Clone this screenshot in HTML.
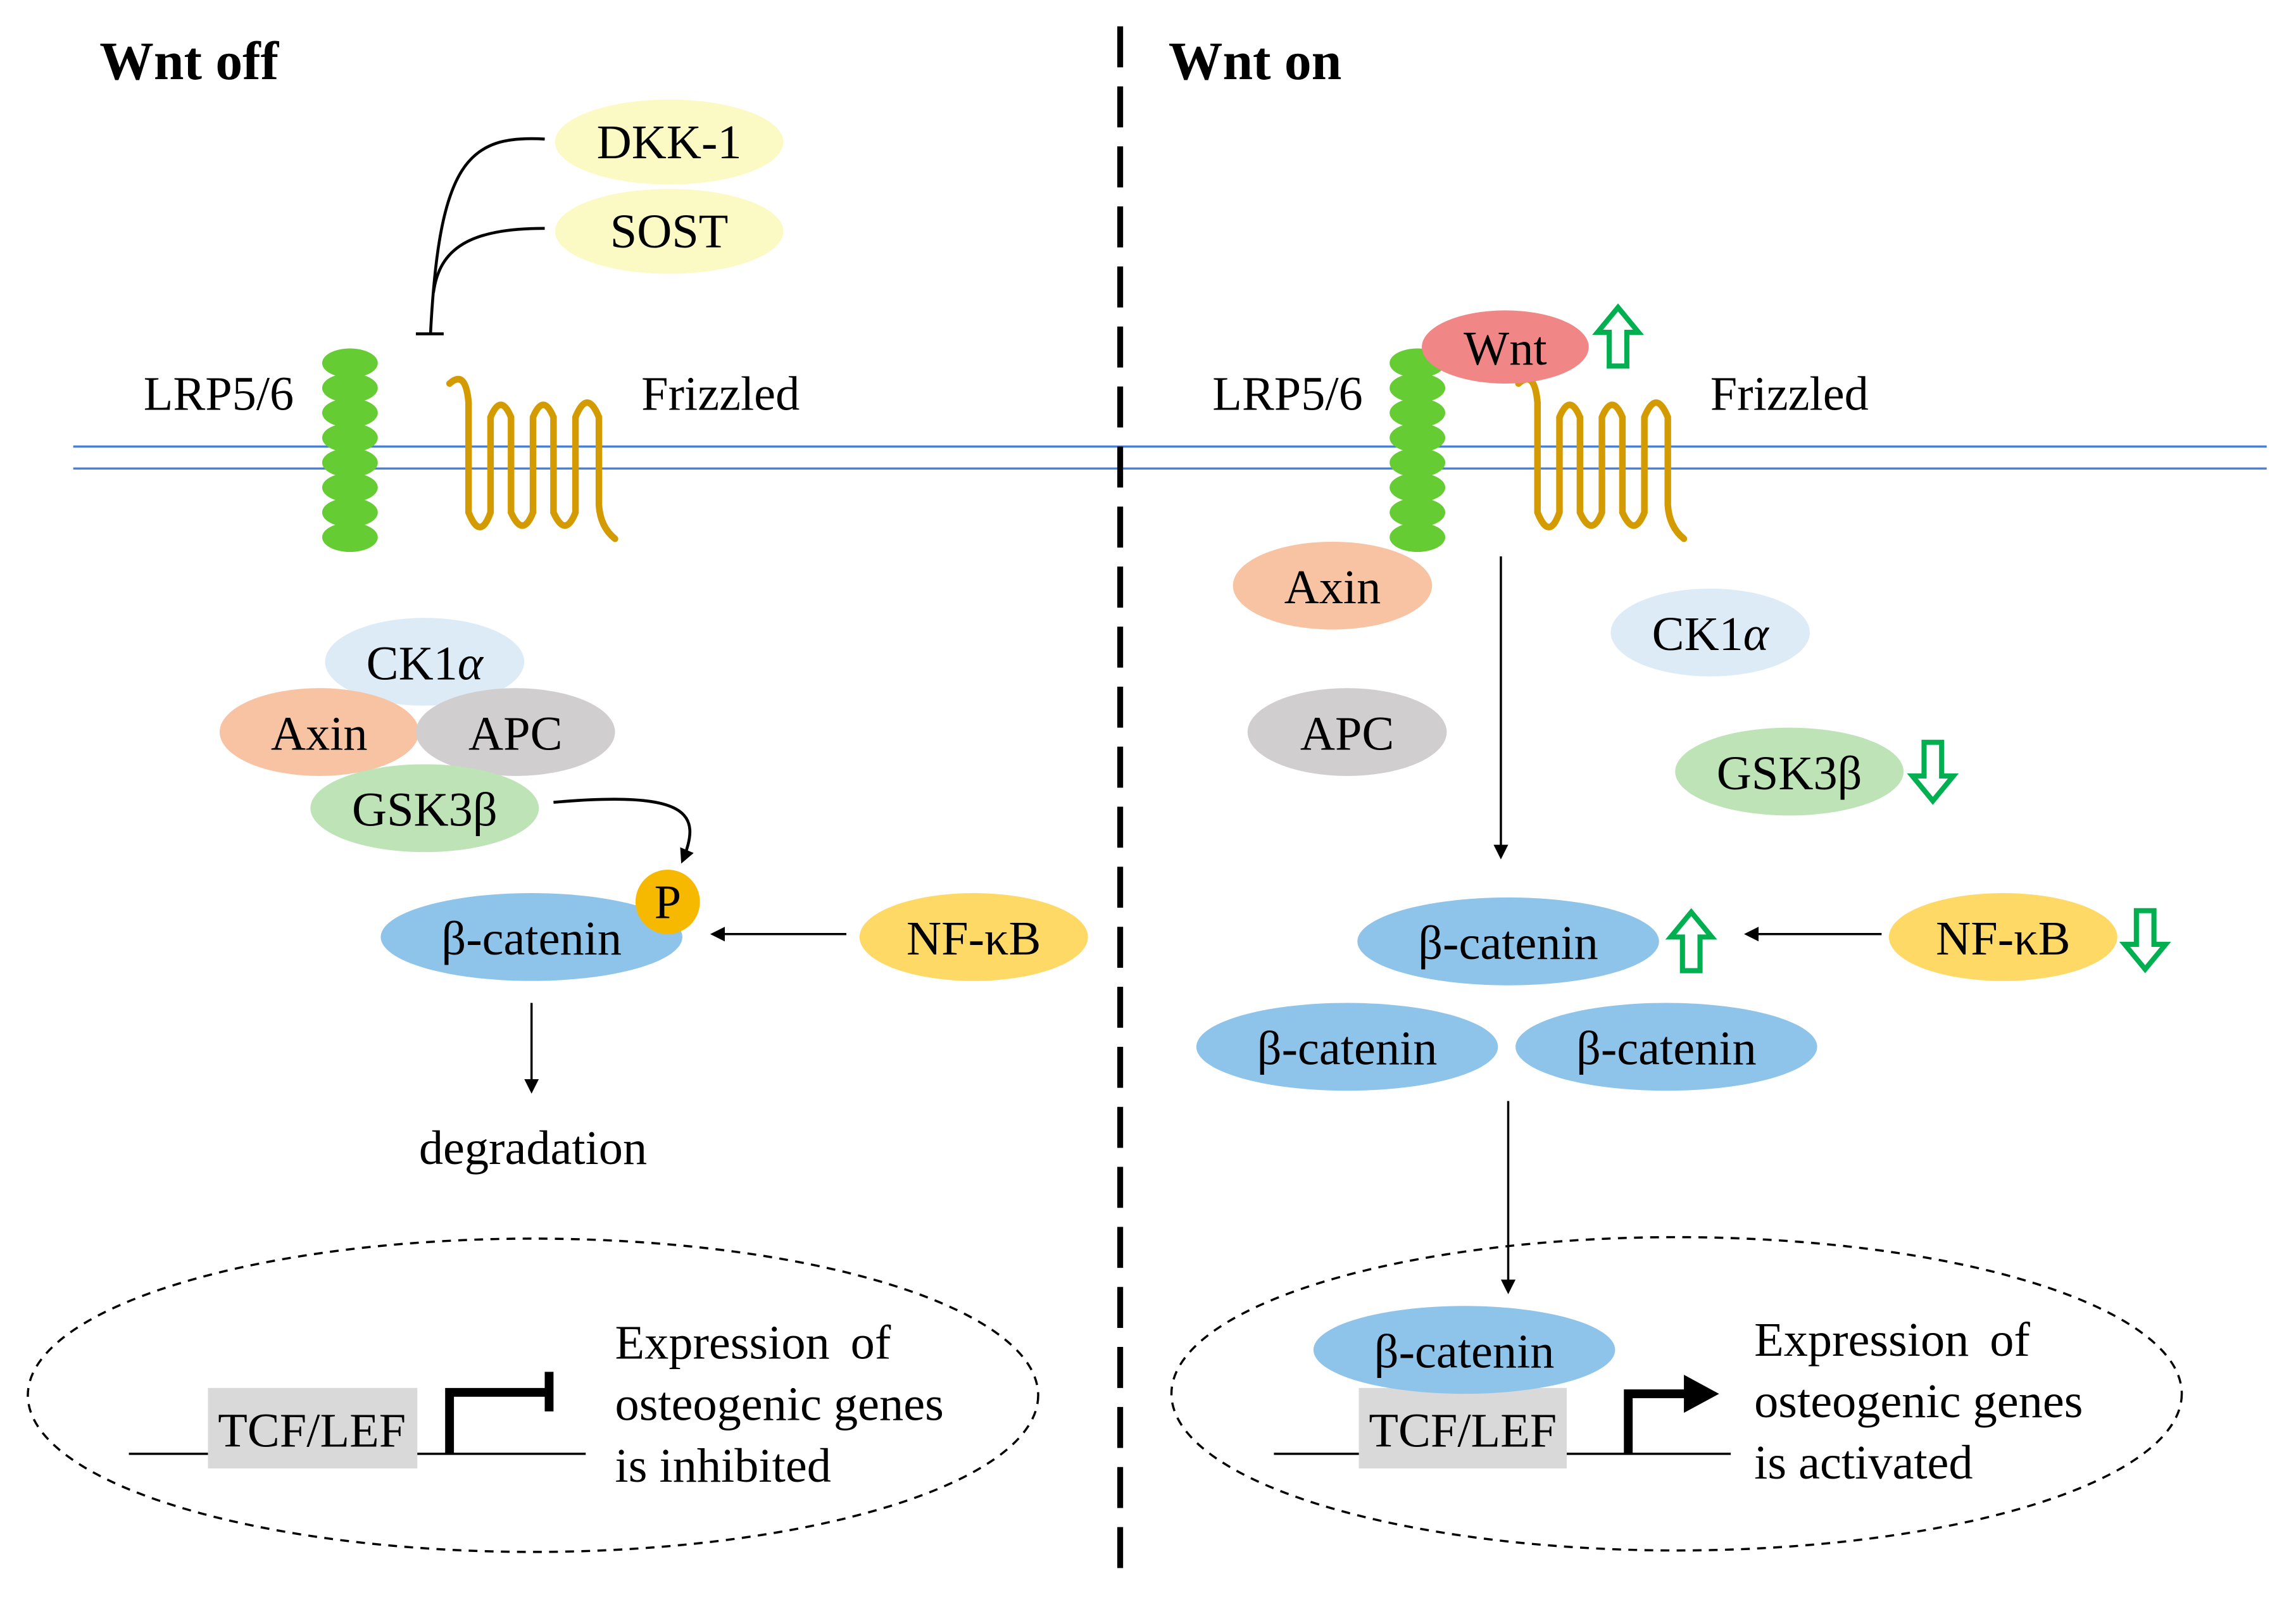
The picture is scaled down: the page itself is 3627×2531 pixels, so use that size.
<!DOCTYPE html>
<html><head><meta charset="utf-8"><style>html,body{margin:0;padding:0;background:#fff}svg{display:block}</style></head>
<body>
<svg width="3627" height="2531" viewBox="0 0 1568 1094.2" xmlns="http://www.w3.org/2000/svg" font-family="'Liberation Serif', serif">
<defs>
<marker id="ah" markerWidth="10" markerHeight="10" refX="8" refY="5" orient="auto" markerUnits="userSpaceOnUse"><path d="M0,0 L10,5 L0,10 z" fill="#000"/></marker>
<g id="fz"><path d="M307,262 Q318,252 320,275 L320,350 Q328,370 335,350 L335,285 Q342,268 349,285 L349,350 Q357,368 364,350 L364,285 Q371,268 378,285 L378,350 Q386,368 393,350 L393,285 Q401,265 409,285 L409,345 Q410,360 420,368" fill="none" stroke="#d49b00" stroke-width="4.5" stroke-linecap="round"/></g>
<g id="lrp" fill="#66cc33"><ellipse cx="0" cy="248" rx="19" ry="10"/><ellipse cx="0" cy="265" rx="19" ry="10"/><ellipse cx="0" cy="282" rx="19" ry="10"/><ellipse cx="0" cy="299" rx="19" ry="10"/><ellipse cx="0" cy="316" rx="19" ry="10"/><ellipse cx="0" cy="333" rx="19" ry="10"/><ellipse cx="0" cy="350" rx="19" ry="10"/><ellipse cx="0" cy="367" rx="19" ry="10"/></g>
<path id="up" d="M0,-20 L14,-3 L6,-3 L6,20 L-6,20 L-6,-3 L-14,-3 z" fill="#fff" stroke="#00b050" stroke-width="3.5"/>
</defs>
<g font-size="33">
<line x1="50" y1="305" x2="1548" y2="305" stroke="#4a7fd4" stroke-width="1.5"/>
<line x1="50" y1="320" x2="1548" y2="320" stroke="#4a7fd4" stroke-width="1.5"/>
<line x1="765" y1="18" x2="765" y2="1075" stroke="#000" stroke-width="4" stroke-dasharray="28,13"/>
<text x="68" y="54" font-weight="bold" font-size="37">Wnt off</text>
<text x="798" y="54" font-weight="bold" font-size="37">Wnt on</text>

<ellipse cx="457" cy="97" rx="78" ry="29" fill="#fcfac4"/><text x="457" y="108" text-anchor="middle">DKK-1</text>
<ellipse cx="457" cy="158" rx="78" ry="29" fill="#fcfac4"/><text x="457" y="169" text-anchor="middle">SOST</text>
<path d="M372,95 C320,92 300,110 294,228" fill="none" stroke="#000" stroke-width="2"/>
<path d="M372,156 C320,156 300,170 296,200" fill="none" stroke="#000" stroke-width="2"/>
<line x1="284" y1="228" x2="303" y2="228" stroke="#000" stroke-width="2"/>
<text x="98" y="280">LRP5/6</text>
<use href="#lrp" transform="translate(239,0)"/>
<use href="#fz"/>
<text x="438" y="280">Frizzled</text>
<ellipse cx="290" cy="452" rx="68" ry="30" fill="#ddebf7"/><text x="290" y="464" text-anchor="middle">CK1<tspan font-style="italic">α</tspan></text>
<ellipse cx="218" cy="500" rx="68" ry="30" fill="#f8c3a2"/><text x="218" y="512" text-anchor="middle">Axin</text>
<ellipse cx="352" cy="500" rx="68" ry="30" fill="#d0cece"/><text x="352" y="512" text-anchor="middle">APC</text>
<ellipse cx="290" cy="552" rx="78" ry="30" fill="#bde3b7"/><text x="290" y="564" text-anchor="middle">GSK3β</text>
<path d="M378,548 C470,540 480,555 466,588" fill="none" stroke="#000" stroke-width="2" marker-end="url(#ah)"/>
<ellipse cx="363" cy="640" rx="103" ry="30" fill="#8fc4ea"/><text x="363" y="652" text-anchor="middle">β-catenin</text>
<circle cx="456" cy="616" r="22" fill="#f7b900"/><text x="456" y="627" text-anchor="middle">P</text>
<ellipse cx="665" cy="640" rx="78" ry="30" fill="#ffd966"/><text x="665" y="652" text-anchor="middle">NF-κB</text>
<line x1="578" y1="638" x2="487" y2="638" stroke="#000" stroke-width="1.5" marker-end="url(#ah)"/>
<line x1="363" y1="685" x2="363" y2="745" stroke="#000" stroke-width="1.5" marker-end="url(#ah)"/>
<text x="364" y="795" text-anchor="middle">degradation</text>
<ellipse cx="364" cy="953" rx="345" ry="107" fill="none" stroke="#000" stroke-width="1.5" stroke-dasharray="6,5"/>
<line x1="88" y1="993" x2="400" y2="993" stroke="#000" stroke-width="1.5"/>
<rect x="142" y="948" width="143" height="55" fill="#d9d9d9"/><text x="213" y="988" text-anchor="middle">TCF/LEF</text>
<path d="M307,993 L307,951 L375,951" fill="none" stroke="#000" stroke-width="6"/>
<line x1="375" y1="937" x2="375" y2="964" stroke="#000" stroke-width="6"/>
<text x="420" y="928" word-spacing="6">Expression of</text>
<text x="420" y="970">osteogenic genes</text>
<text x="420" y="1012">is inhibited</text>

<text x="828" y="280">LRP5/6</text>
<use href="#lrp" transform="translate(968,0)"/>
<use href="#fz" transform="translate(730,0)"/>
<ellipse cx="1028" cy="237" rx="57" ry="25" fill="#f18686"/><text x="1028" y="249" text-anchor="middle">Wnt</text>
<use href="#up" transform="translate(1105,230)"/>
<text x="1168" y="280">Frizzled</text>
<ellipse cx="910" cy="400" rx="68" ry="30" fill="#f8c3a2"/><text x="910" y="412" text-anchor="middle">Axin</text>
<ellipse cx="1168" cy="432" rx="68" ry="30" fill="#ddebf7"/><text x="1168" y="444" text-anchor="middle">CK1<tspan font-style="italic">α</tspan></text>
<ellipse cx="920" cy="500" rx="68" ry="30" fill="#d0cece"/><text x="920" y="512" text-anchor="middle">APC</text>
<ellipse cx="1222" cy="527" rx="78" ry="30" fill="#bde3b7"/><text x="1222" y="539" text-anchor="middle">GSK3β</text>
<use href="#up" transform="translate(1320,527) rotate(180)"/>
<line x1="1025" y1="380" x2="1025" y2="585" stroke="#000" stroke-width="1.5" marker-end="url(#ah)"/>
<ellipse cx="1030" cy="643" rx="103" ry="30" fill="#8fc4ea"/><text x="1030" y="655" text-anchor="middle">β-catenin</text>
<use href="#up" transform="translate(1155,643)"/>
<line x1="1285" y1="638" x2="1193" y2="638" stroke="#000" stroke-width="1.5" marker-end="url(#ah)"/>
<ellipse cx="1368" cy="640" rx="78" ry="30" fill="#ffd966"/><text x="1368" y="652" text-anchor="middle">NF-κB</text>
<use href="#up" transform="translate(1465,642) rotate(180)"/>
<ellipse cx="920" cy="715" rx="103" ry="30" fill="#8fc4ea"/><text x="920" y="727" text-anchor="middle">β-catenin</text>
<ellipse cx="1138" cy="715" rx="103" ry="30" fill="#8fc4ea"/><text x="1138" y="727" text-anchor="middle">β-catenin</text>
<line x1="1030" y1="752" x2="1030" y2="882" stroke="#000" stroke-width="1.5" marker-end="url(#ah)"/>
<ellipse cx="1145" cy="952" rx="345" ry="107" fill="none" stroke="#000" stroke-width="1.5" stroke-dasharray="6,5"/>
<line x1="870" y1="993" x2="1182" y2="993" stroke="#000" stroke-width="1.5"/>
<rect x="928" y="948" width="142" height="55" fill="#d9d9d9"/><text x="999" y="988" text-anchor="middle">TCF/LEF</text>
<ellipse cx="1000" cy="922" rx="103" ry="30" fill="#8fc4ea"/><text x="1000" y="934" text-anchor="middle">β-catenin</text>
<path d="M1112,993 L1112,952 L1152,952" fill="none" stroke="#000" stroke-width="6"/>
<path d="M1150,939 L1174,952 L1150,965 z" fill="#000"/>
<text x="1198" y="926" word-spacing="6">Expression of</text>
<text x="1198" y="968">osteogenic genes</text>
<text x="1198" y="1010">is activated</text>
</g>
</svg>
</body></html>
